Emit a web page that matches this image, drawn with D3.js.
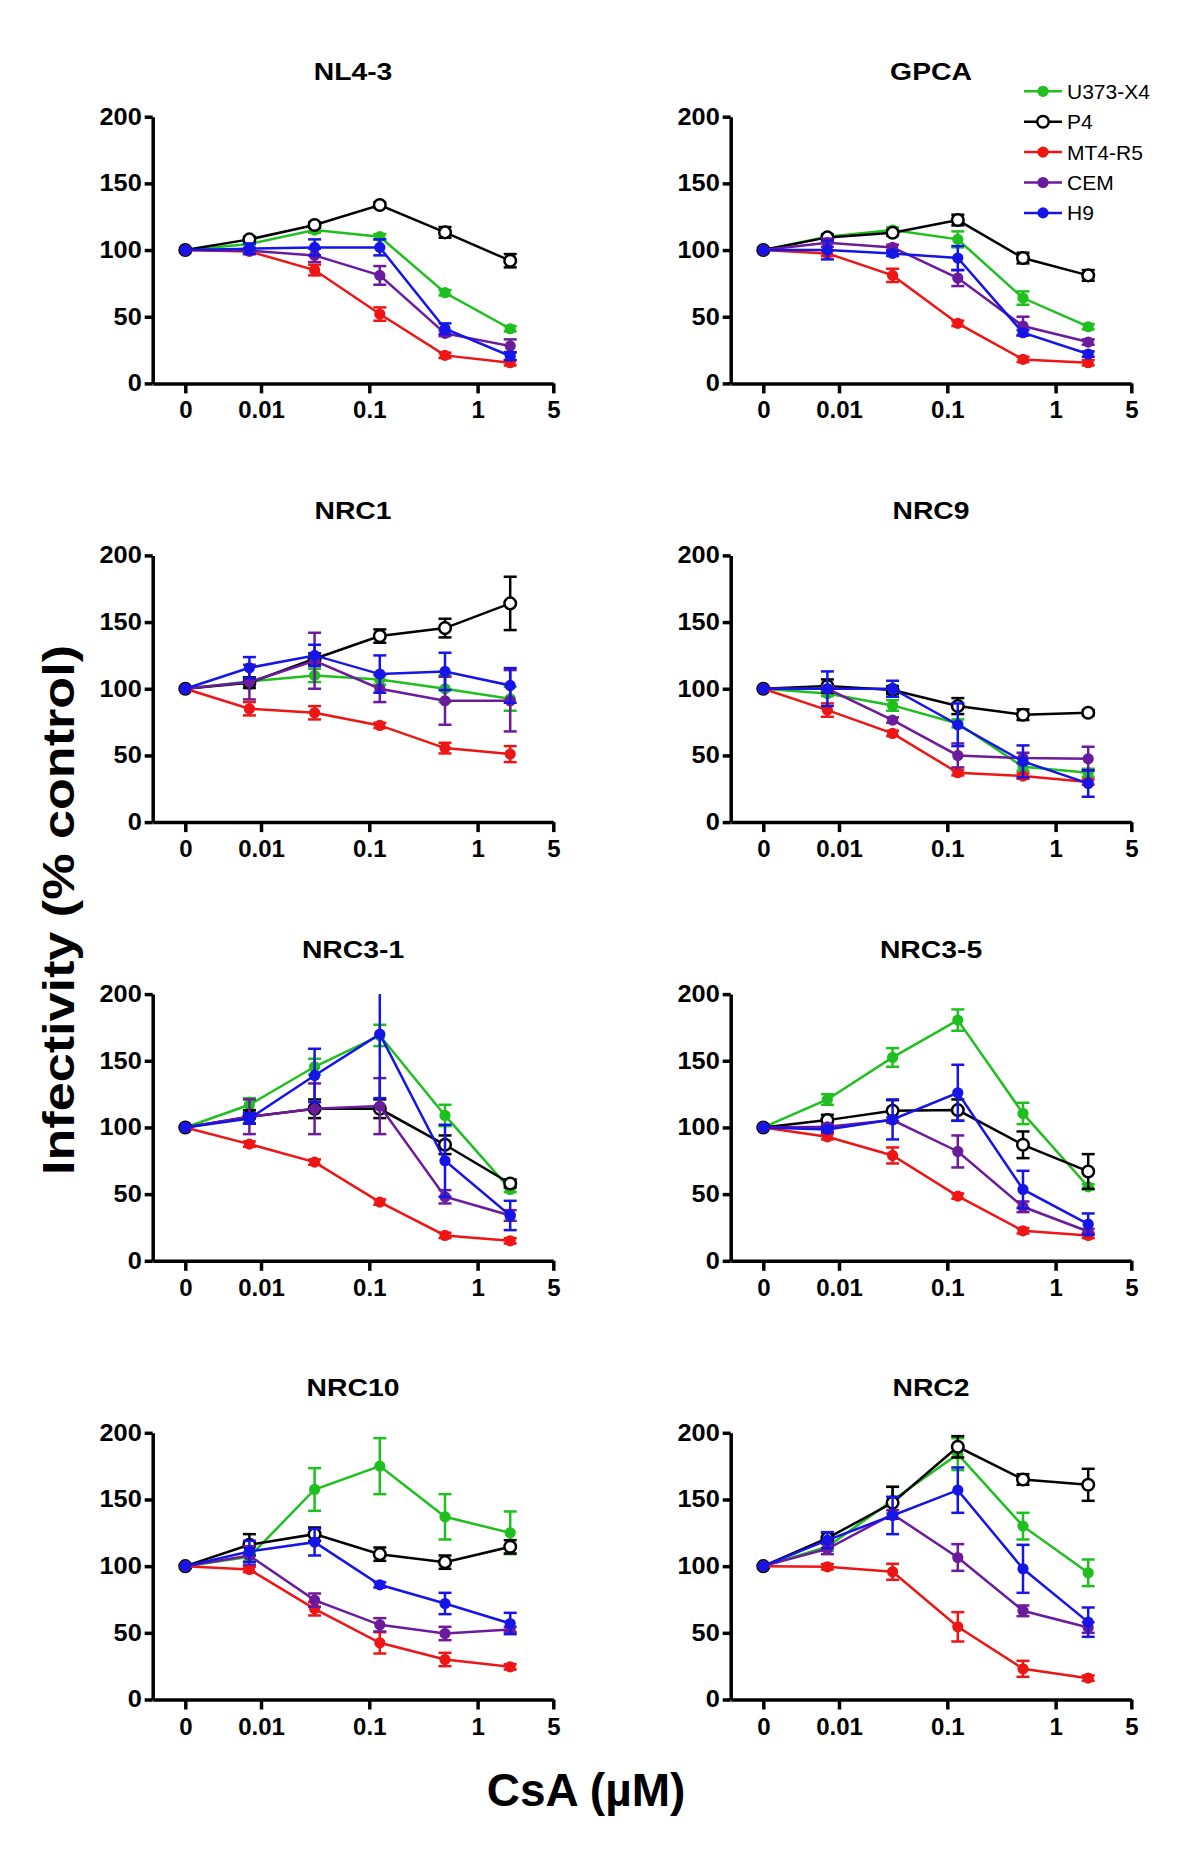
<!DOCTYPE html>
<html>
<head>
<meta charset="utf-8">
<script src="https://cdn.jsdelivr.net/npm/d3@7"></script>
<style>
  html, body { margin: 0; padding: 0; background: #fff; }
  svg { display: block; font-family: "Liberation Sans", Arial, Helvetica, sans-serif; }
</style>
</head>
<body>
<svg id="chart" width="1200" height="1854"></svg>
<script>
// ---------------- DATA ----------------
const panelNames = ["NL4-3", "GPCA", "NRC1", "NRC9", "NRC3-1", "NRC3-5", "NRC10", "NRC2"];
const seriesNames = ["U373-X4", "P4", "MT4-R5", "CEM", "H9"];
const seriesColors = ["#1fbf1f", "#000000", "#ee1515", "#6b1b9b", "#1515e8"];
const seriesOpen = [false, true, false, false, false];
const doses = [0, 0.0078125, 0.03125, 0.125, 0.5, 2];      // µM; 0 = no drug
const xTickValues = [0, 0.01, 0.1, 1, 5];
const xTickLabels = ["0", "0.01", "0.1", "1", "5"];
const yTickValues = [0, 50, 100, 150, 200];

// means: rows = U373-X4, P4, MT4-R5, CEM, H9
const NL43 = [
  [100, 104.5, 115, 110, 68, 41],
  [100, 108, 118.75, 133.75, 113.25, 92],
  [100, 99, 85, 52, 21, 15.5],
  [100, 99.5, 96, 81, 37.5, 28],
  [100, 101, 102, 102, 41, 20.5]
];
const NL43_err = [
  [0, 1, 2, 2, 2, 2],
  [0, 2, 2, 2, 4, 5],
  [0, 2, 4, 5, 2, 2],
  [0, 2, 5, 7, 2, 5],
  [0, 4, 6, 6, 4, 3]
];
const GPCA = [
  [100, 110, 115, 108, 64, 42.5],
  [100, 109.5, 113, 122.5, 94, 81],
  [100, 97.5, 81, 45, 18, 15.5],
  [100, 105.5, 102, 79, 43, 31],
  [100, 100, 97.5, 94, 38, 22]
];
const GPCA_err = [
  [0, 2, 2, 6, 5, 2],
  [0, 2, 2, 4, 4, 4],
  [0, 2, 5, 2, 2, 2],
  [0, 3, 2, 6, 7, 2],
  [0, 7, 2, 9, 2, 2]
];
const NRC1 = [
  [100, 105.5, 110, 107, 100, 92.5],
  [100, 104.5, 122.5, 139.5, 145.5, 164],
  [100, 85, 82, 72.5, 55.5, 51],
  [100, 105, 121, 100, 91, 91],
  [100, 115.75, 125, 111, 113, 102.5]
];
const NRC1_err = [
  [0, 3, 5, 4, 10, 9],
  [0, 4, 4, 5, 7, 20],
  [0, 5, 5, 2, 4, 6],
  [0, 13, 21, 10, 18, 23],
  [0, 8, 8, 14, 14, 13]
];
const NRC9 = [
  [100, 96.5, 87.5, 74, 41.5, 37],
  [100, 102, 99, 87, 80.5, 82],
  [100, 84, 66.5, 37, 34.5, 30],
  [100, 100, 76.5, 50, 48, 47.5],
  [100, 100, 100, 73, 45.5, 29]
];
const NRC9_err = [
  [0, 2, 4, 3, 3, 3],
  [0, 5, 3, 6, 4, 2],
  [0, 5, 2, 2, 2, 2],
  [0, 2, 2, 9, 4, 9],
  [0, 13, 6, 16, 12, 10]
];
const NRC3_1 = [
  [100, 117, 145.5, 169, 109, 53.5],
  [100, 108, 114, 114, 87, 58],
  [100, 87.5, 74, 44, 19, 15],
  [100, 108, 114, 116, 48, 34],
  [100, 106.75, 139, 170, 75, 34]
];
const NRC3_1_err = [
  [0, 5, 6, 8, 8, 2],
  [0, 5, 7, 7, 7, 3],
  [0, 2, 2, 2, 2, 2],
  [0, 13, 19, 21, 5, 4],
  [0, 4, 20, 48, 27, 11]
];
const NRC3_5 = [
  [100, 121, 152.5, 180.5, 110.5, 55.5],
  [100, 105.5, 112.5, 113, 87, 67],
  [100, 93, 79, 48.5, 22.5, 19],
  [100, 100.5, 105.5, 82, 40.5, 22],
  [100, 98.5, 106, 126, 53.5, 27.5]
];
const NRC3_5_err = [
  [0, 4, 7, 8, 8, 2],
  [0, 4, 8, 8, 10, 13],
  [0, 2, 6, 2, 2, 2],
  [0, 2, 2, 12, 4, 2],
  [0, 2, 15, 21, 14, 8]
];
const NRC10 = [
  [100, 107, 157.5, 175, 137, 125],
  [100, 116, 124, 109, 103, 114.5],
  [100, 97.5, 68, 42.5, 30, 24.5],
  [100, 108, 74.5, 56, 49.5, 52.5],
  [100, 111, 118, 86, 72, 57]
];
const NRC10_err = [
  [0, 3, 16, 21, 17, 16],
  [0, 8, 5, 5, 5, 5],
  [0, 2, 5, 8, 5, 2],
  [0, 7, 5, 5, 5, 2],
  [0, 8, 10, 2, 8, 8]
];
const NRC2 = [
  [100, 114.5, 149.5, 184, 130, 95],
  [100, 121, 147.5, 189.5, 165, 161],
  [100, 99.5, 95.75, 54.5, 23, 16],
  [100, 113, 139, 106.5, 66.5, 54],
  [100, 119.5, 138, 157, 98, 58]
];
const NRC2_err = [
  [0, 3, 10, 12, 10, 10],
  [0, 4, 12, 8, 4, 12],
  [0, 2, 6, 11, 6, 2],
  [0, 4, 3, 10, 4, 4],
  [0, 6, 14, 17, 18, 11]
];

const panelMeans = [NL43, GPCA, NRC1, NRC9, NRC3_1, NRC3_5, NRC10, NRC2];
const panelErrs = [NL43_err, GPCA_err, NRC1_err, NRC9_err, NRC3_1_err, NRC3_5_err, NRC10_err, NRC2_err];

// ---------------- LAYOUT ----------------
const ZERO_AT = 0.002;   // where the "0" dose sits on the log axis
const FONT = '"Liberation Sans", Arial, Helvetica, sans-serif';
const colLeft = [152.7, 730.7];
const colRight = [553.3, 1131.3];
const rowTop0 = 116.7, rowStep = 438.7, plotH = 266.7;
const Y_TICK_SX = 1.1, TITLE_SX = 1.18;

const svg = d3.select("#chart");

panelNames.forEach((name, pi) => {
  const col = pi % 2, row = Math.floor(pi / 2);
  const top = rowTop0 + row * rowStep;
  const x = d3.scaleLog().domain([0.001, 5]).range([colLeft[col], colRight[col]]);
  const y = d3.scaleLinear().domain([0, 200]).range([top + plotH, top]);
  const xp = d => x(d === 0 ? ZERO_AT : d);

  const g = svg.append("g");

  // title
  g.append("g")
    .attr("transform", `translate(${(colLeft[col] + colRight[col]) / 2},${top - 36.5}) scale(${TITLE_SX},1)`)
    .append("text")
    .attr("text-anchor", "middle")
    .attr("font-size", 24).attr("font-weight", "bold")
    .attr("font-family", FONT)
    .text(name);

  // y axis
  const ya = g.append("g")
    .attr("transform", `translate(${colLeft[col]},0)`)
    .call(d3.axisLeft(y).tickValues(yTickValues).tickSize(8).tickSizeOuter(0).tickPadding(3));
  // x axis
  const xa = g.append("g")
    .attr("transform", `translate(0,${top + plotH})`)
    .call(d3.axisBottom(x)
      .tickValues(xTickValues.map(v => v === 0 ? ZERO_AT : v))
      .tickFormat((d, i) => xTickLabels[i])
      .tickSize(10).tickSizeOuter(0).tickPadding(8));

  [ya, xa].forEach(a => {
    a.select(".domain").attr("stroke", "#000").attr("stroke-width", 3.5);
    a.selectAll(".tick line").attr("stroke", "#000").attr("stroke-width", 3.5);
    a.selectAll(".tick text").attr("fill", "#000")
      .attr("font-family", FONT).attr("font-weight", "bold");
  });
  ya.selectAll(".tick text").attr("font-size", 23)
    .attr("x", -11 / Y_TICK_SX)
    .attr("transform", `scale(${Y_TICK_SX},1)`);
  xa.selectAll(".tick text").attr("font-size", 24);

  const means = panelMeans[pi], errs = panelErrs[pi];
  const line = d3.line().x((d, i) => xp(doses[i])).y(d => y(d));

  seriesNames.forEach((s, si) => {
    const color = seriesColors[si];
    const sg = g.append("g");
    // error bars
    means[si].forEach((m, i) => {
      const e = errs[si][i];
      if (!e) return;
      const cx = xp(doses[i]);
      const hi = Math.min(200, m + e), lo = Math.max(0, m - e);
      sg.append("line").attr("x1", cx).attr("x2", cx)
        .attr("y1", y(hi)).attr("y2", y(lo))
        .attr("stroke", color).attr("stroke-width", 2.5);
      if (m + e <= 200)
        sg.append("line").attr("x1", cx - 6.5).attr("x2", cx + 6.5)
          .attr("y1", y(hi)).attr("y2", y(hi))
          .attr("stroke", color).attr("stroke-width", 2.5);
      sg.append("line").attr("x1", cx - 6.5).attr("x2", cx + 6.5)
        .attr("y1", y(lo)).attr("y2", y(lo))
        .attr("stroke", color).attr("stroke-width", 2.5);
    });
    // line
    sg.append("path").datum(means[si])
      .attr("d", line).attr("fill", "none")
      .attr("stroke", color).attr("stroke-width", 2.5);
    // markers
    sg.selectAll("circle").data(means[si]).join("circle")
      .attr("cx", (d, i) => xp(doses[i]))
      .attr("cy", d => y(d))
      .attr("r", seriesOpen[si] ? 5.8 : 5.6)
      .attr("fill", seriesOpen[si] ? "#fff" : color)
      .attr("stroke", color)
      .attr("stroke-width", seriesOpen[si] ? 2.5 : 0);
  });
});

// legend
const legX0 = 1024, legX1 = 1062, legTextX = 1067, legY0 = 91.3, legStep = 30.4;
const leg = svg.append("g");
seriesNames.forEach((s, si) => {
  const yy = legY0 + si * legStep;
  const c = seriesColors[si];
  leg.append("line").attr("x1", legX0).attr("x2", legX1).attr("y1", yy).attr("y2", yy)
    .attr("stroke", c).attr("stroke-width", 2.5);
  leg.append("circle").attr("cx", (legX0 + legX1) / 2).attr("cy", yy)
    .attr("r", seriesOpen[si] ? 5.8 : 5.6)
    .attr("fill", seriesOpen[si] ? "#fff" : c)
    .attr("stroke", c).attr("stroke-width", seriesOpen[si] ? 2.5 : 0);
  leg.append("text").attr("x", legTextX).attr("y", yy + 7.5)
    .attr("font-family", FONT).attr("font-size", 21)
    .attr("fill", "#000").text(s);
});

// axis titles
svg.append("text")
  .attr("transform", "translate(74,910) rotate(-90)")
  .attr("text-anchor", "middle")
  .attr("font-family", FONT).attr("font-weight", "bold")
  .attr("font-size", 44)
  .attr("textLength", 530).attr("lengthAdjust", "spacingAndGlyphs")
  .text("Infectivity (% control)");

svg.append("text")
  .attr("x", 586).attr("y", 1806)
  .attr("text-anchor", "middle")
  .attr("font-family", FONT).attr("font-weight", "bold")
  .attr("font-size", 46)
  .text("CsA (µM)");
</script>
</body>
</html>
